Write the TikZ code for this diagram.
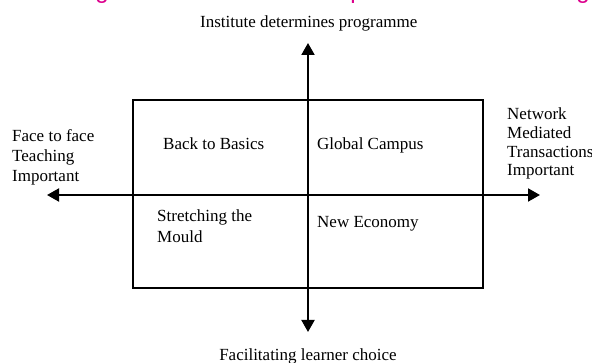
\documentclass[tikz,border=0pt]{standalone}
\usepackage{fontspec}
\setmainfont{Liberation Serif}
\newfontfamily\headfont{Liberation Sans}
\usetikzlibrary{arrows.meta}
\definecolor{headpink}{RGB}{220,0,140}
\begin{document}
\begin{tikzpicture}[x=1pt,y=-1pt,
  lbl/.style={inner sep=0pt,font=\fontsize{17}{19.5}\selectfont},
  axis/.style={line width=2pt,{Triangle[width=13pt,length=12pt]}-{Triangle[width=13pt,length=12pt]}},
  frame/.style={draw,line width=2pt,inner sep=0pt},
  headfrag/.style={inner sep=0pt,anchor=base,text=headpink,font=\headfont\fontsize{24}{28}\selectfont}]
  \useasboundingbox (0,0) rectangle (592,363);
  \clip (0,0) rectangle (592,363);

  % heading above the chart (only its lowest strokes fall inside the page)
  \node[headfrag] (h1) at (102,-1.5) {g};
  \node[headfrag] (h2) at (357,-1.5) {p};
  \node[headfrag] (h3) at (583,-1.5) {g};

  % quadrant frame
  \node[frame,minimum width=350pt,minimum height=188pt] (box) at (308,194) {};

  % axis end points
  \coordinate (top) at (308,43);
  \coordinate (bottom) at (308,332);
  \coordinate (left) at (47,195);
  \coordinate (right) at (540,195);
  \draw[axis] (bottom) -- (top);
  \draw[axis] (left) -- (right);

  % axis labels (multi-line nodes sit on the baseline of their last line)
  \node[lbl,anchor=base] (north) at (308.7,28) {Institute determines programme};
  \node[lbl,anchor=base] (south) at (308,360.5) {Facilitating learner choice};
  \node[lbl,anchor=base west,align=left,font=\fontsize{17}{20}\selectfont] (west) at (12,181.7)
    {Face to face\\Teaching\\Important};
  \node[lbl,anchor=base west,align=left,font=\fontsize{17}{18.7}\selectfont] (east) at (507,176)
    {Network\\Mediated\\Transactions\\Important};

  % quadrant labels
  \node[lbl,anchor=base west] (q1) at (163,150) {Back to Basics};
  \node[lbl,anchor=base west] (q2) at (317,150) {Global Campus};
  \node[lbl,anchor=base west,align=left,font=\fontsize{17}{21}\selectfont] (q3) at (157,243)
    {Stretching the\\Mould};
  \node[lbl,anchor=base west] (q4) at (317,228) {New Economy};
\end{tikzpicture}
\end{document}
